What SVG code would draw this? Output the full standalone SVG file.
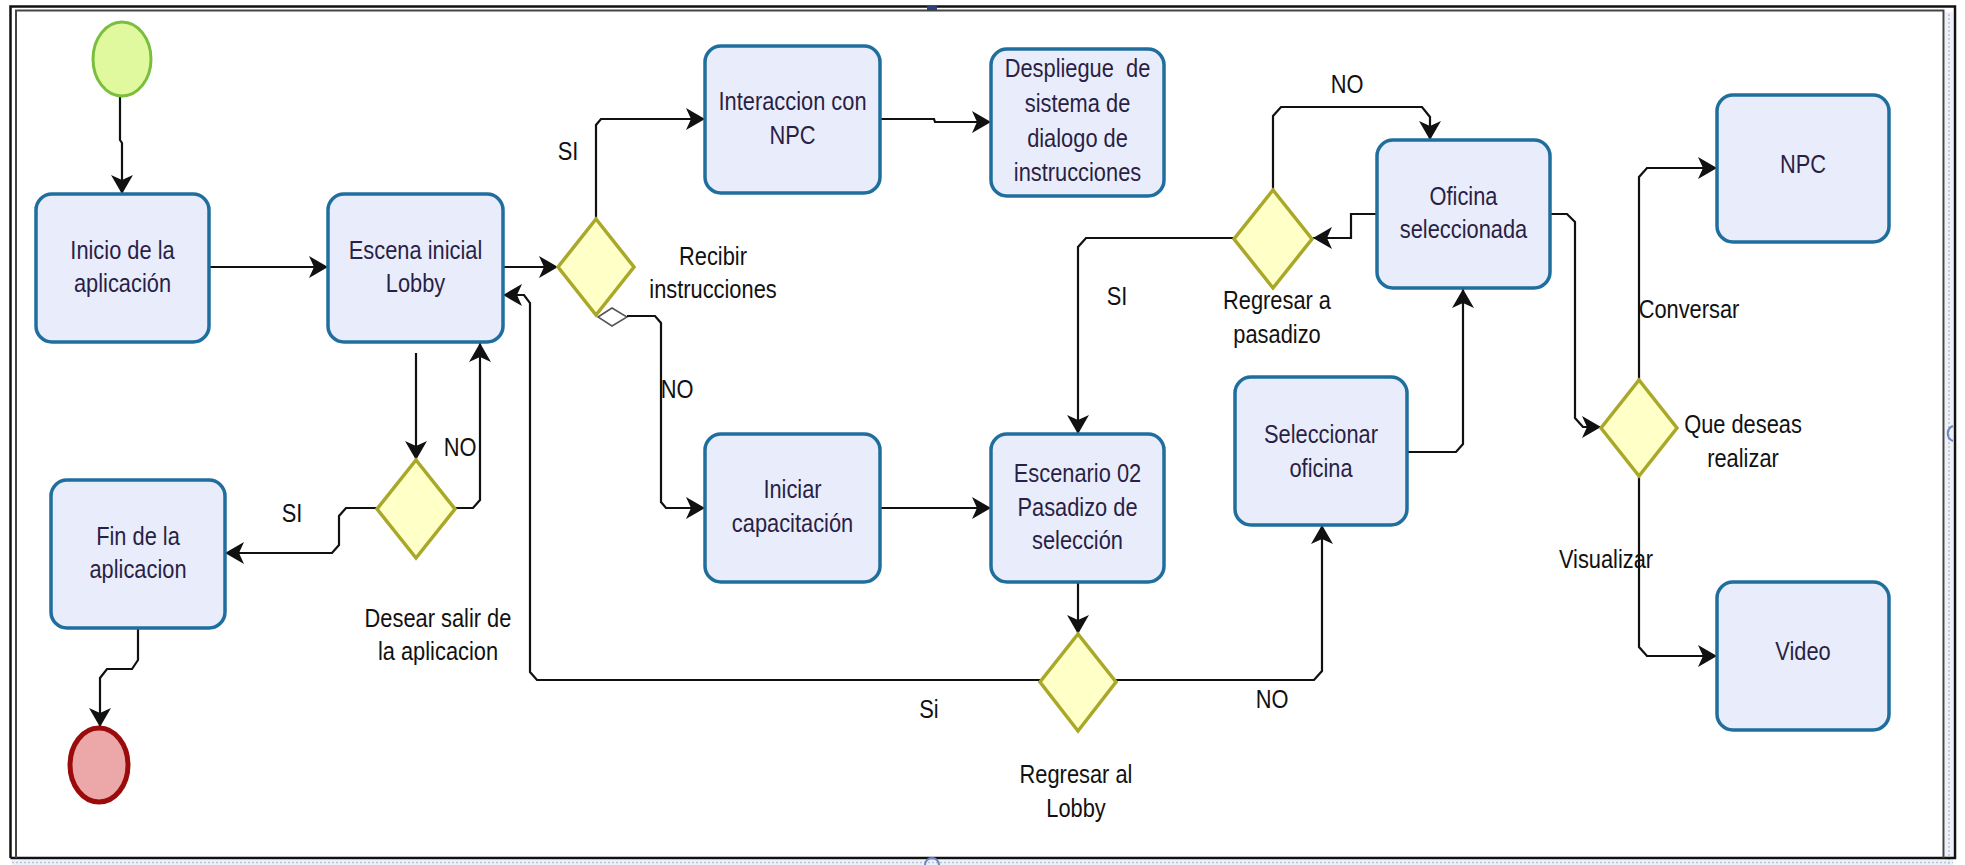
<svg xmlns="http://www.w3.org/2000/svg" width="1965" height="865" viewBox="0 0 1965 865">
<defs>
<style>
.box{fill:#e9edfb;stroke:#1f6e9e;stroke-width:3.5}
.gw{fill:#ffffc8;stroke:#a9a829;stroke-width:3.5}
.cn{fill:none;stroke:#111;stroke-width:2.2;marker-end:url(#ah)}
.t{font-family:"Liberation Sans",Arial,sans-serif;font-size:26px;fill:#2a1f45;text-anchor:middle}
.lb{font-family:"Liberation Sans",Arial,sans-serif;font-size:26px;fill:#111;text-anchor:middle}
.handle{fill:none;stroke:#6f86c4;stroke-width:2}
</style>
<marker id="ah" viewBox="0 0 19 22" refX="19" refY="11" markerWidth="19" markerHeight="22" markerUnits="userSpaceOnUse" orient="auto">
<path d="M0,0 L19,11 L0,22 L5,11 Z" fill="#111"/>
</marker>
</defs>
<rect x="0" y="0" width="1965" height="865" fill="#ffffff"/>
<g id="frame">
<rect x="1945" y="12" width="8" height="853" fill="#eef1f7"/>
<rect x="12" y="860" width="1941" height="5" fill="#eef1f7"/>
<line x1="1949" y1="14" x2="1949" y2="865" stroke="#b9c4dc" stroke-width="1.5" stroke-dasharray="2 2"/>
<line x1="12" y1="862.5" x2="1953" y2="862.5" stroke="#b9c4dc" stroke-width="1.5" stroke-dasharray="2 2"/>
<polyline points="10.5,858 10.5,6.5 1955,6.5 1955,858 10.5,858" fill="none" stroke="#111" stroke-width="2.5"/>
<polyline points="16,858 16,10.5 1943.5,10.5 1943.5,858" fill="none" stroke="#444" stroke-width="2"/>
<rect x="927" y="6" width="10" height="4" fill="#2b3f7a"/>
<path class="handle" d="M925 865 A7 7 0 0 1 939 865"/>
<path class="handle" d="M1953 426 A8 8 0 0 0 1953 441"/>
</g>
<g id="connectors">
<path class="cn" d="M120 88 L120 140 L122 143 L122 194"/>
<path class="cn" d="M209 267 L328 267"/>
<path class="cn" d="M503 267 L558 267"/>
<path class="cn" d="M596 219 L596 125 L601 119 L705 119"/>
<path class="cn" d="M880 119 L934 119 L935 122 L991 122"/>
<path d="M598 317 L612 308 L627 317 L612 326 Z" fill="#fff" stroke="#555" stroke-width="1.5"/>
<path class="cn" d="M627 316 L655 316 L661 323 L661 502 L666 508 L705 508"/>
<path class="cn" d="M880 508 L991 508"/>
<path class="cn" d="M416 353 L416 460"/>
<path class="cn" d="M455 508 L473 508 L480 500 L480 343"/>
<path class="cn" d="M377 508 L346 508 L339 516 L339 545 L332 553 L225 553"/>
<path class="cn" d="M138 628 L138 660 L132 669 L107 669 L100 678 L100 727"/>
<path class="cn" d="M1078 582 L1078 634"/>
<path class="cn" d="M1040 680 L537 680 L530 672 L530 303 L524 295 L503 295"/>
<path class="cn" d="M1116 680 L1314 680 L1322 671 L1322 525"/>
<path class="cn" d="M1407 452 L1456 452 L1463 444 L1463 289"/>
<path class="cn" d="M1377 214 L1351 214 L1351 238 L1313 238"/>
<path class="cn" d="M1273 190 L1273 116 L1281 107 L1422 107 L1430 117 L1430 140"/>
<path class="cn" d="M1235 238 L1086 238 L1078 247 L1078 434"/>
<path class="cn" d="M1550 214 L1567 214 L1575 222 L1575 418 L1583 427 L1601 427"/>
<path class="cn" d="M1639 380 L1639 177 L1647 168 L1717 168"/>
<path class="cn" d="M1639 475 L1639 647 L1647 656 L1717 656"/>
</g>
<g id="start"><ellipse cx="122" cy="59" rx="29" ry="37" fill="#e0f89e" stroke="#79be3c" stroke-width="3"/></g>
<g id="end"><ellipse cx="99" cy="765" rx="29" ry="37" fill="#eca8a8" stroke="#9b0b0b" stroke-width="5"/></g>
<g id="inicio"><rect class="box" x="36" y="194" width="173" height="148" rx="16"/>
<text class="t" transform="translate(122.5,259) scale(0.84,1)"><tspan x="0" y="0">Inicio de la</tspan><tspan x="0" y="33">aplicación</tspan></text></g>
<g id="escena"><rect class="box" x="328" y="194" width="175" height="148" rx="16"/>
<text class="t" transform="translate(415.5,259) scale(0.84,1)"><tspan x="0" y="0">Escena inicial</tspan><tspan x="0" y="33">Lobby</tspan></text></g>
<g id="interaccion"><rect class="box" x="705" y="46" width="175" height="147" rx="16"/>
<text class="t" transform="translate(792.5,110) scale(0.84,1)"><tspan x="0" y="0">Interaccion con</tspan><tspan x="0" y="34">NPC</tspan></text></g>
<g id="despliegue"><rect class="box" x="991" y="49" width="173" height="147" rx="16"/>
<text class="t" transform="translate(1077.5,77) scale(0.84,1)"><tspan x="0" y="0" xml:space="preserve">Despliegue  de</tspan><tspan x="0" y="35">sistema de</tspan><tspan x="0" y="70">dialogo de</tspan><tspan x="0" y="104">instrucciones</tspan></text></g>
<g id="oficina-sel"><rect class="box" x="1377" y="140" width="173" height="148" rx="16"/>
<text class="t" transform="translate(1463.5,205) scale(0.84,1)"><tspan x="0" y="0">Oficina</tspan><tspan x="0" y="33">seleccionada</tspan></text></g>
<g id="npc"><rect class="box" x="1717" y="95" width="172" height="147" rx="16"/>
<text class="t" transform="translate(1803,173) scale(0.84,1)">NPC</text></g>
<g id="fin"><rect class="box" x="51" y="480" width="174" height="148" rx="16"/>
<text class="t" transform="translate(138,545) scale(0.84,1)"><tspan x="0" y="0">Fin de la</tspan><tspan x="0" y="33">aplicacion</tspan></text></g>
<g id="iniciar"><rect class="box" x="705" y="434" width="175" height="148" rx="16"/>
<text class="t" transform="translate(792.5,498) scale(0.84,1)"><tspan x="0" y="0">Iniciar</tspan><tspan x="0" y="34">capacitación</tspan></text></g>
<g id="escenario02"><rect class="box" x="991" y="434" width="173" height="148" rx="16"/>
<text class="t" transform="translate(1077.5,482) scale(0.84,1)"><tspan x="0" y="0">Escenario 02</tspan><tspan x="0" y="34">Pasadizo de</tspan><tspan x="0" y="67">selección</tspan></text></g>
<g id="seleccionar"><rect class="box" x="1235" y="377" width="172" height="148" rx="16"/>
<text class="t" transform="translate(1321,443) scale(0.84,1)"><tspan x="0" y="0">Seleccionar</tspan><tspan x="0" y="34">oficina</tspan></text></g>
<g id="video"><rect class="box" x="1717" y="582" width="172" height="148" rx="16"/>
<text class="t" transform="translate(1803,660) scale(0.84,1)">Video</text></g>
<g id="gw-recibir"><path class="gw" d="M596 219 L634 267 L596 315 L558 267 Z"/>
<text class="lb" transform="translate(713,265) scale(0.84,1)"><tspan x="0" y="0">Recibir</tspan><tspan x="0" y="33">instrucciones</tspan></text></g>
<g id="gw-salir"><path class="gw" d="M416 460 L455 509 L416 558 L377 509 Z"/>
<text class="lb" transform="translate(438,627) scale(0.84,1)"><tspan x="0" y="0">Desear salir de</tspan><tspan x="0" y="33">la aplicacion</tspan></text></g>
<g id="gw-lobby"><path class="gw" d="M1078 634 L1116 682 L1078 731 L1040 682 Z"/>
<text class="lb" transform="translate(1076,783) scale(0.84,1)"><tspan x="0" y="0">Regresar al</tspan><tspan x="0" y="34">Lobby</tspan></text></g>
<g id="gw-pasadizo"><path class="gw" d="M1273 190 L1312 239 L1273 288 L1234 239 Z"/>
<text class="lb" transform="translate(1277,309) scale(0.84,1)"><tspan x="0" y="0">Regresar a</tspan><tspan x="0" y="34">pasadizo</tspan></text></g>
<g id="gw-que"><path class="gw" d="M1639 380 L1677 428 L1639 476 L1601 428 Z"/>
<text class="lb" transform="translate(1743,433) scale(0.84,1)"><tspan x="0" y="0">Que deseas</tspan><tspan x="0" y="34">realizar</tspan></text></g>
<g id="labels">
<text class="lb" transform="translate(568,160) scale(0.84,1)">SI</text>
<text class="lb" transform="translate(677,398) scale(0.84,1)">NO</text>
<text class="lb" transform="translate(460,456) scale(0.84,1)">NO</text>
<text class="lb" transform="translate(292,522) scale(0.84,1)">SI</text>
<text class="lb" transform="translate(929,718) scale(0.84,1)">Si</text>
<text class="lb" transform="translate(1272,708) scale(0.84,1)">NO</text>
<text class="lb" transform="translate(1117,305) scale(0.84,1)">SI</text>
<text class="lb" transform="translate(1347,93) scale(0.84,1)">NO</text>
<text class="lb" transform="translate(1689,318) scale(0.84,1)">Conversar</text>
<text class="lb" transform="translate(1606,568) scale(0.84,1)">Visualizar</text>
</g>
</svg>
